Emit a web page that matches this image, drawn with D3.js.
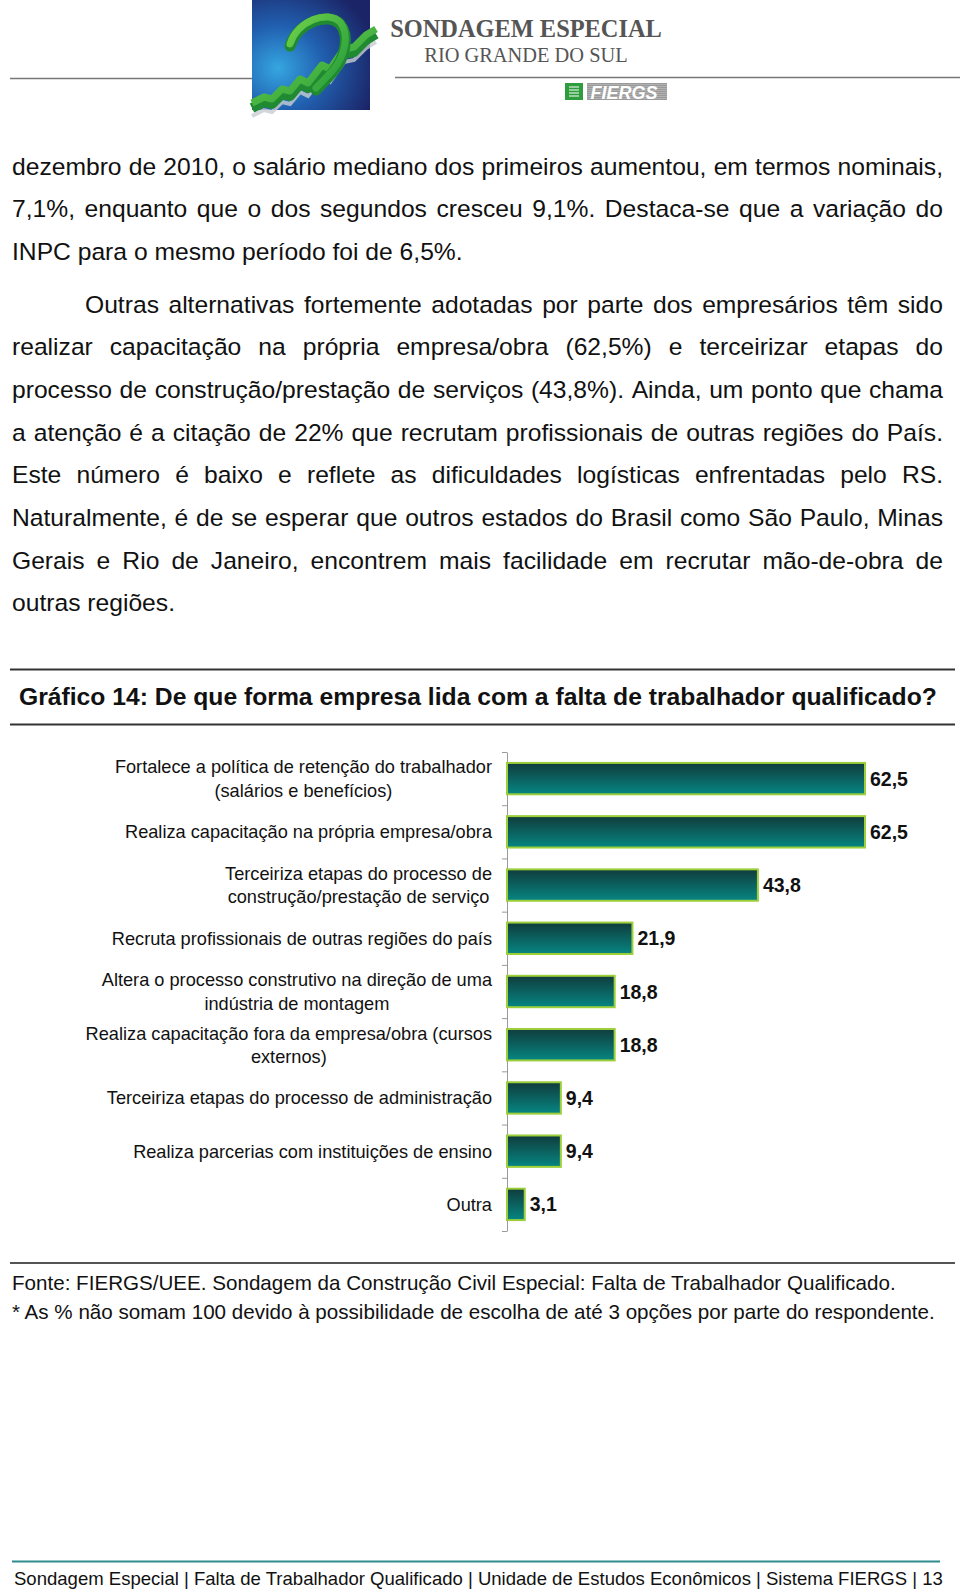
<!DOCTYPE html>
<html>
<head>
<meta charset="utf-8">
<script src="https://cdn.jsdelivr.net/npm/d3@7"></script>
<style>
  body { margin: 0; background: #fff; }
  svg { display: block; }
  text { font-family: "Liberation Sans", Arial, Helvetica, sans-serif; }
</style>
</head>
<body>
<div id="page"></div>
<script>
// Chart data
const categories = [
    "Fortalece a política de retenção do trabalhador\n(salários e benefícios)",
    "Realiza capacitação na própria empresa/obra",
    "Terceiriza etapas do processo de\nconstrução/prestação de serviço",
    "Recruta profissionais de outras regiões do país",
    "Altera o processo construtivo na direção de uma\nindústria de montagem",
    "Realiza capacitação fora da empresa/obra (cursos\nexternos)",
    "Terceiriza etapas do processo de administração",
    "Realiza parcerias com instituições de ensino",
    "Outra"
];
const values = [62.5, 62.5, 43.8, 21.9, 18.8, 18.8, 9.4, 9.4, 3.1];

// Page texts
const paragraph1 = [
    "dezembro de 2010, o salário mediano dos primeiros aumentou, em termos nominais,",
    "7,1%, enquanto que o dos segundos cresceu 9,1%. Destaca-se que a variação do",
    "INPC para o mesmo período foi de 6,5%."
];
const paragraph2 = [
    "Outras alternativas fortemente adotadas por parte dos empresários têm sido",
    "realizar capacitação na própria empresa/obra (62,5%) e terceirizar etapas do",
    "processo de construção/prestação de serviços (43,8%). Ainda, um ponto que chama",
    "a atenção é a citação de 22% que recrutam profissionais de outras regiões do País.",
    "Este número é baixo e reflete as dificuldades logísticas enfrentadas pelo RS.",
    "Naturalmente, é de se esperar que outros estados do Brasil como São Paulo, Minas",
    "Gerais e Rio de Janeiro, encontrem mais facilidade em recrutar mão-de-obra de",
    "outras regiões."
];
const chartTitle = "Gráfico 14: De que forma empresa lida com a falta de trabalhador qualificado?";
const notes = [
    "Fonte: FIERGS/UEE. Sondagem da Construção Civil Especial: Falta de Trabalhador Qualificado.",
    "* As % não somam 100 devido à possibilidade de escolha de até 3 opções por parte do respondente."
];
const footerText = "Sondagem Especial | Falta de Trabalhador Qualificado | Unidade de Estudos Econômicos | Sistema FIERGS | 13";

const W = 960, H = 1593;
const svg = d3.select("#page").append("svg")
    .attr("width", W)
    .attr("height", H);

const defs = svg.append("defs");

// bar gradient (dark teal on top, lighter teal at bottom)
const barGrad = defs.append("linearGradient")
    .attr("id", "barGrad")
    .attr("x1", 0).attr("y1", 0).attr("x2", 0).attr("y2", 1);
barGrad.append("stop").attr("offset", "0%").attr("stop-color", "#103c3c");
barGrad.append("stop").attr("offset", "100%").attr("stop-color", "#068682");

// logo gradients
const logoGrad = defs.append("radialGradient")
    .attr("id", "logoGrad")
    .attr("cx", "22%").attr("cy", "62%").attr("r", "85%");
logoGrad.append("stop").attr("offset", "0%").attr("stop-color", "#35a6e0");
logoGrad.append("stop").attr("offset", "45%").attr("stop-color", "#2160b0");
logoGrad.append("stop").attr("offset", "100%").attr("stop-color", "#1b2466");

const greenGrad = defs.append("linearGradient")
    .attr("id", "greenGrad")
    .attr("x1", 0).attr("y1", 0).attr("x2", 1).attr("y2", 1);
greenGrad.append("stop").attr("offset", "0%").attr("stop-color", "#6fd04a");
greenGrad.append("stop").attr("offset", "100%").attr("stop-color", "#239a3a");

// ---------- Header ----------
const header = svg.append("g");

header.append("line")
    .attr("x1", 10).attr("x2", 252).attr("y1", 78.5).attr("y2", 78.5)
    .attr("stroke", "#777").attr("stroke-width", 1.5);
header.append("line")
    .attr("x1", 395).attr("x2", 960).attr("y1", 77.5).attr("y2", 77.5)
    .attr("stroke", "#777").attr("stroke-width", 1.5);

header.append("rect")
    .attr("x", 252).attr("y", 0)
    .attr("width", 118).attr("height", 110)
    .attr("fill", "url(#logoGrad)");

// shadow under the stairs
header.append("path")
    .attr("d", "M252,116 L264,110 L272,112 L282,102 L290,104 L300,92 L308,96 L322,78 L330,82 L344,62 L354,60 L366,48 L376,42")
    .attr("fill", "none").attr("stroke", "#c8cdd2").attr("stroke-width", 4).attr("opacity", 0.8);
// stairs (dark side)
header.append("path")
    .attr("d", "M252,108 L264,102 L272,104 L282,94 L290,96 L300,84 L308,88 L322,70 L330,74 L344,54 L354,52 L366,40 L376,34")
    .attr("fill", "none").attr("stroke", "#1f8a32").attr("stroke-width", 10).attr("stroke-linejoin", "round");
// stairs (top face)
header.append("path")
    .attr("d", "M252,103 L264,97 L272,99 L282,89 L290,91 L300,79 L308,83 L322,65 L330,69 L344,49 L354,47 L366,35 L376,29")
    .attr("fill", "none").attr("stroke", "url(#greenGrad)").attr("stroke-width", 7).attr("stroke-linejoin", "round");
// loop
header.append("path")
    .attr("d", "M290,46 C298,22 328,12 340,24 C350,36 345,58 333,72 C326,80 320,86 316,90")
    .attr("fill", "none").attr("stroke", "#1f8a32").attr("stroke-width", 11).attr("stroke-linecap", "round");
header.append("path")
    .attr("d", "M290,44 C298,20 328,10 340,22 C350,34 345,56 333,70 C326,78 320,84 316,88")
    .attr("fill", "none").attr("stroke", "url(#greenGrad)").attr("stroke-width", 7).attr("stroke-linecap", "round");

header.append("text")
    .attr("x", 526).attr("y", 37)
    .attr("text-anchor", "middle")
    .style("font-family", "'Liberation Serif', 'Times New Roman', serif")
    .style("font-weight", "bold")
    .style("font-size", "24.4px")
    .attr("fill", "#555")
    .text("SONDAGEM ESPECIAL");
header.append("text")
    .attr("x", 526).attr("y", 62)
    .attr("text-anchor", "middle")
    .style("font-family", "'Liberation Serif', 'Times New Roman', serif")
    .style("font-size", "20.4px")
    .attr("fill", "#555")
    .text("RIO GRANDE DO SUL");

// FIERGS mark
header.append("rect")
    .attr("x", 565).attr("y", 83).attr("width", 18).attr("height", 17)
    .attr("fill", "#2f9d3e");
[87, 90, 93, 96].forEach(yy => {
    header.append("line")
        .attr("x1", 569).attr("x2", 579).attr("y1", yy).attr("y2", yy)
        .attr("stroke", "#fff").attr("stroke-width", 1);
});
header.append("rect")
    .attr("x", 587).attr("y", 83).attr("width", 80).attr("height", 17)
    .attr("fill", "#9a9a9a");
d3.range(84, 100, 2).forEach(yy => {
    header.append("line")
        .attr("x1", 587).attr("x2", 667).attr("y1", yy + 0.5).attr("y2", yy + 0.5)
        .attr("stroke", "#b8b8b8").attr("stroke-width", 0.8);
});
header.append("text")
    .attr("x", 624).attr("y", 98.5)
    .attr("text-anchor", "middle")
    .style("font-weight", "bold")
    .style("font-style", "italic")
    .style("font-size", "18px")
    .attr("fill", "#fff")
    .text("FIERGS");

// ---------- Body text ----------
const bodySize = 24.65;

// draws one line of text, justified across [x0, x1] if asked
function drawLine(parent, str, x0, x1, y, size, justify) {
    const t = parent.append("text")
        .attr("y", y)
        .style("font-size", size + "px")
        .attr("fill", "#111");
    if (!justify) {
        t.attr("x", x0).text(str);
        return t;
    }
    const words = str.split(" ");
    const spans = words.map(w => t.append("tspan").text(w));
    const widths = spans.map(s => s.node().getComputedTextLength());
    const total = d3.sum(widths);
    const gap = (x1 - x0 - total) / (words.length - 1);
    let x = x0;
    spans.forEach((s, i) => {
        s.attr("x", x);
        x += widths[i] + gap;
    });
    return t;
}

const body = svg.append("g");
const lineStep = 42.7;
paragraph1.forEach((ln, i) => {
    drawLine(body, ln, 12, 943, 174.5 + i * lineStep, bodySize, i < paragraph1.length - 1);
});
paragraph2.forEach((ln, i) => {
    drawLine(body, ln, i === 0 ? 85 : 12, 943, 312.5 + i * lineStep, bodySize, i < paragraph2.length - 1);
});

// ---------- Chart title ----------
svg.append("line")
    .attr("x1", 10).attr("x2", 955).attr("y1", 669.5).attr("y2", 669.5)
    .attr("stroke", "#333").attr("stroke-width", 2);
svg.append("line")
    .attr("x1", 10).attr("x2", 955).attr("y1", 724.5).attr("y2", 724.5)
    .attr("stroke", "#333").attr("stroke-width", 2);
svg.append("text")
    .attr("x", 19).attr("y", 705)
    .style("font-size", "24.7px")
    .style("font-weight", "bold")
    .attr("fill", "#111")
    .text(chartTitle);

// ---------- Bar chart ----------
const plotTop = 752, plotBottom = 1231, plotLeft = 507;

const x = d3.scaleLinear()
    .domain([0, 70])
    .range([plotLeft, plotLeft + 70 * 5.728]);

const y = d3.scaleBand()
    .domain(categories)
    .range([plotTop, plotBottom])
    .paddingInner(0.41)
    .paddingOuter(0.205);

const fmt = d3.formatLocale({ decimal: ",", thousands: ".", grouping: [3], currency: ["R$", ""] }).format(".1f");

const chart = svg.append("g");

// axis with ticks on category boundaries
const edges = d3.scaleLinear().domain([0, categories.length]).range([plotTop, plotBottom]);
const axis = chart.append("g")
    .attr("transform", `translate(${plotLeft},0)`)
    .call(d3.axisLeft(edges).ticks(categories.length).tickSize(5).tickSizeOuter(0).tickFormat(""));
axis.select(".domain").attr("stroke", "#9a9a9a");
axis.selectAll(".tick line").attr("stroke", "#9a9a9a");

const rows = categories.map((c, i) => ({ cat: c, value: values[i] }));

chart.selectAll("rect.bar")
    .data(rows)
    .enter()
    .append("rect")
    .attr("class", "bar")
    .attr("x", x(0))
    .attr("y", d => y(d.cat))
    .attr("width", d => x(d.value) - x(0))
    .attr("height", y.bandwidth())
    .attr("fill", "url(#barGrad)")
    .attr("stroke", "#9ccf3a")
    .attr("stroke-width", 2);

chart.selectAll("text.value")
    .data(rows)
    .enter()
    .append("text")
    .attr("class", "value")
    .attr("x", d => x(d.value) + 5)
    .attr("y", d => y(d.cat) + y.bandwidth() / 2 + 7)
    .style("font-size", "19.5px")
    .style("font-weight", "bold")
    .attr("fill", "#111")
    .text(d => fmt(d.value));

// category labels: block right-aligned, lines centred within the block
const labelRight = 492;
const labelGroups = chart.selectAll("text.cat")
    .data(rows)
    .enter()
    .append("text")
    .attr("class", "cat")
    .attr("text-anchor", "middle")
    .style("font-size", "18.2px")
    .attr("fill", "#111");

labelGroups.each(function (d) {
    const lines = d.cat.split("\n");
    const cy = y(d.cat) + y.bandwidth() / 2;
    const lh = 23.4;
    const first = cy - (lines.length - 1) * lh / 2 + 6.5;
    const spans = lines.map((ln, i) => d3.select(this).append("tspan")
        .attr("y", first + i * lh)
        .text(ln));
    const maxW = d3.max(spans, s => s.node().getComputedTextLength());
    spans.forEach(s => s.attr("x", labelRight - maxW / 2));
});

// ---------- Notes ----------
svg.append("line")
    .attr("x1", 10).attr("x2", 955).attr("y1", 1263).attr("y2", 1263)
    .attr("stroke", "#555").attr("stroke-width", 2);
notes.forEach((n, i) => {
    drawLine(svg, n, 12, 0, 1289.5 + i * 29.5, 20.6, false);
});

// ---------- Footer ----------
svg.append("line")
    .attr("x1", 12).attr("x2", 940).attr("y1", 1561.5).attr("y2", 1561.5)
    .attr("stroke", "#2f8c8c").attr("stroke-width", 2);
drawLine(svg, footerText, 14, 0, 1584.5, 18.55, false);
</script>
</body>
</html>
